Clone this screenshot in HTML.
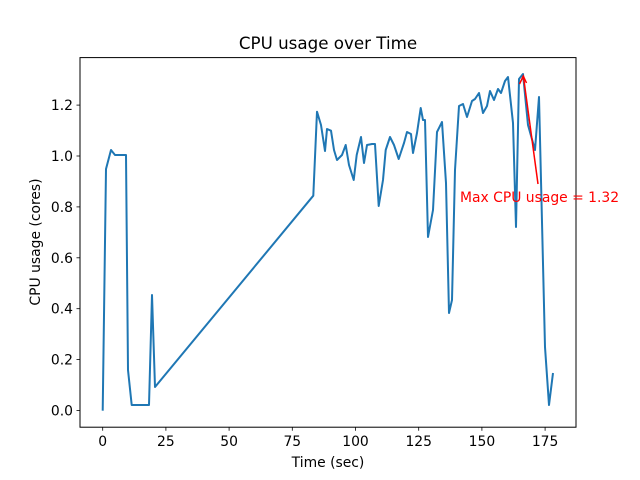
<!DOCTYPE html>
<html><head><meta charset="utf-8"><style>body{margin:0;background:#fff}svg{display:block;font-family:"DejaVu Sans","Liberation Sans",sans-serif}</style></head><body>
<svg width="640" height="480" viewBox="0 0 640 480">
<rect x="80" y="57.6" width="496" height="369.6" fill="none" stroke="#000" stroke-width="1"/>
<g stroke="#000" stroke-width="0.8">
<line x1="102.7" y1="427.2" x2="102.7" y2="430.7"/><line x1="165.9" y1="427.2" x2="165.9" y2="430.7"/><line x1="229.1" y1="427.2" x2="229.1" y2="430.7"/><line x1="292.3" y1="427.2" x2="292.3" y2="430.7"/><line x1="355.5" y1="427.2" x2="355.5" y2="430.7"/><line x1="418.7" y1="427.2" x2="418.7" y2="430.7"/><line x1="481.9" y1="427.2" x2="481.9" y2="430.7"/><line x1="545.1" y1="427.2" x2="545.1" y2="430.7"/>
<line x1="76.5" y1="410.5" x2="80" y2="410.5"/><line x1="76.5" y1="359.6" x2="80" y2="359.6"/><line x1="76.5" y1="308.7" x2="80" y2="308.7"/><line x1="76.5" y1="257.8" x2="80" y2="257.8"/><line x1="76.5" y1="206.9" x2="80" y2="206.9"/><line x1="76.5" y1="156" x2="80" y2="156"/><line x1="76.5" y1="105.1" x2="80" y2="105.1"/>
</g>
<g font-size="13.9" fill="#000" text-anchor="middle">
<text x="102.7" y="446">0</text><text x="165.9" y="446">25</text><text x="229.1" y="446">50</text><text x="292.3" y="446">75</text><text x="355.5" y="446">100</text><text x="418.7" y="446">125</text><text x="481.9" y="446">150</text><text x="545.1" y="446">175</text>
</g>
<g font-size="13.9" fill="#000" text-anchor="end">
<text x="73" y="415.5">0.0</text><text x="73" y="364.6">0.2</text><text x="73" y="313.7">0.4</text><text x="73" y="262.8">0.6</text><text x="73" y="211.9">0.8</text><text x="73" y="161">1.0</text><text x="73" y="110.1">1.2</text>
</g>
<text x="328" y="467" font-size="13.9" text-anchor="middle">Time (sec)</text>
<text transform="translate(40,242) rotate(-90)" font-size="13.9" text-anchor="middle">CPU usage (cores)</text>
<text x="328" y="49" font-size="16.7" text-anchor="middle">CPU usage over Time</text>
<polyline fill="none" stroke="#1f77b4" stroke-width="2" stroke-linejoin="round" points="102.7,410.7 106,169 111,150 115,155 125,155 126,155 128,370 131.7,405 142,405 149,405 152,295 155,387 313.3,195.7 317,111.7 321,125 325,151 327,129 331,130.7 334,150 337,160 342,155 345.7,145 349,165 353.7,180 356.7,155 361,137 364,163 367,145 372,144 375,144 378.7,206 383,180 385.7,150 390,137 394,145 398.7,159 401,152 404,143 407,132 411,134 413,153 417,133 420.7,108 423,120 425,120 428,237 433,210 437,132 442,122 446,183 449,313 452,300 455,170 459,106 463,104 467,117 472,101 475,99 479,93 483,113 487,106 490,91 494,100 498,89 501,93 505,81 508,77 513,123 516,227 519,79 523,74 528,125 535,150 539,97 545,347 549,405 553,373"/>
<line x1="538" y1="184" x2="523.5" y2="77" stroke="red" stroke-width="1.5"/>
<polyline points="519.5,84 523.3,76 526.5,83" fill="none" stroke="red" stroke-width="1.5"/>
<text x="460" y="202" font-size="13.9" fill="red">Max CPU usage = 1.32</text>
</svg>
</body></html>
